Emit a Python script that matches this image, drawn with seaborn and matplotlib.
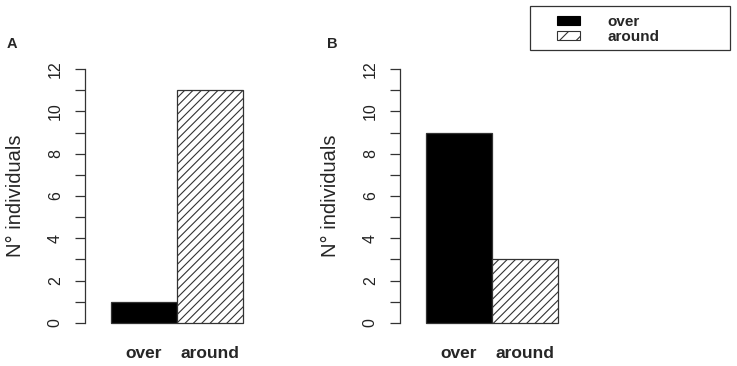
import pandas as pd
import seaborn as sns
import matplotlib.pyplot as plt
from matplotlib.patches import Patch, Rectangle
from matplotlib.ticker import MultipleLocator

# Daten
categories = ["over", "around"]
counts_a = [1, 11]
counts_b = [9, 3]
panel_letters = ["A", "B"]
y_label = "N° individuals"

sns.set_theme(style="ticks")
plt.rcParams["font.family"] = ["Liberation Sans", "DejaVu Sans"]
plt.rcParams["hatch.linewidth"] = 0.8

W, H = 737, 366
fig = plt.figure(figsize=(W / 100, H / 100), dpi=100)

# Achsen in Pixeln (links, unten, breite, hoehe)
ax_a = fig.add_axes([85 / W, 33 / H, 163 / W, 274 / H])
ax_b = fig.add_axes([400 / W, 33 / H, 163 / W, 274 / H])

for ax, counts, letter, lx in zip([ax_a, ax_b], [counts_a, counts_b], panel_letters, [12, 332]):
    df = pd.DataFrame({"category": categories, "count": counts})
    sns.barplot(
        data=df, x="category", y="count", hue="category",
        palette=["black", "white"], width=1.0, ax=ax,
        edgecolor="#333333", linewidth=0.9, legend=False
    )
    # zweiter Balken schraffiert
    for patch, cat in zip(ax.patches, categories):
        if cat == "around":
            patch.set_hatch("////")
    ax.set_xlim(-0.894, 1.58)
    ax.set_ylim(-0.48, 12.48)
    ax.yaxis.set_major_locator(MultipleLocator(2))
    ax.yaxis.set_minor_locator(MultipleLocator(1))
    ax.tick_params(axis="y", which="both", length=7, width=0.9, color="#333333",
                   direction="out", pad=9)
    ax.tick_params(axis="y", labelsize=11.5, labelcolor="#222222", labelrotation=90)
    for lab in ax.get_yticklabels():
        lab.set_va("center")
    ax.tick_params(axis="x", length=0, pad=9, labelsize=12.5)
    for lab in ax.get_xticklabels():
        lab.set_fontweight("bold")
    sns.despine(ax=ax, bottom=True)
    ax.spines["left"].set_bounds(0, 12)
    ax.spines["left"].set_color("#333333")
    ax.spines["left"].set_linewidth(0.9)
    ax.set_xlabel("")
    ax.set_ylabel(y_label, fontsize=14.5)
    ax.yaxis.set_label_coords(-60 / 163, 0.5)
    fig.text(lx / W, 1 - 44 / H, letter, ha="center", va="center",
             fontsize=10.5, fontweight="bold")

# Legende
handles = [
    Patch(facecolor="black", edgecolor="black", linewidth=0.8),
    Patch(facecolor="white", edgecolor="#333333", hatch="//", linewidth=0.8),
]
fig.legend(handles, categories, loc="upper left",
           bbox_to_anchor=(557 / W, 1 - 15 / H), frameon=False,
           borderpad=0, borderaxespad=0, handlelength=1.5, handleheight=0.5,
           handletextpad=1.8, labelspacing=0.05,
           prop={"weight": "bold", "size": 11})
fig.add_artist(Rectangle((530 / W, 1 - 50 / H), 200 / W, 44 / H,
                         transform=fig.transFigure, fill=False,
                         edgecolor="#333333", linewidth=0.9))

fig.savefig("out.png", dpi=100)
